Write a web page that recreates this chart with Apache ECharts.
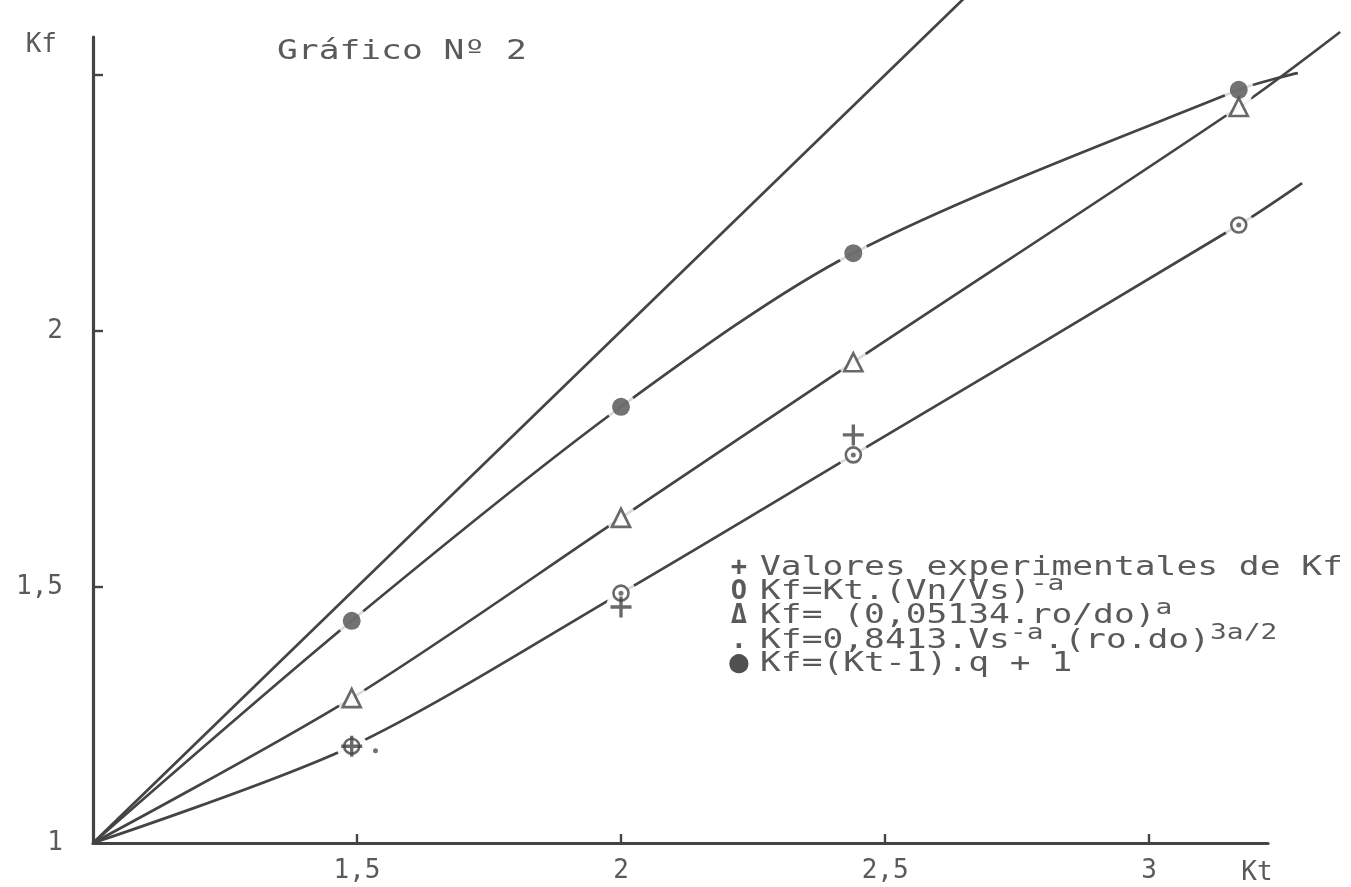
<!DOCTYPE html>
<html><head><meta charset="utf-8">
<script src="https://cdn.jsdelivr.net/npm/echarts@6/dist/echarts.min.js"></script>
<style>html,body{margin:0;padding:0;background:#fff}#c{width:1351px;height:887px}</style>
</head><body><div id="c"></div>
<script>
// ---- data (Kt on x, Kf on y) ----
const ktPoints = [1.49, 2.0, 2.44, 3.17];
const kfQ      = [1.434, 1.852, 2.152, 2.471];   // ● Kf=(Kt-1).q + 1
const kfRoDo   = [1.283, 1.635, 1.939, 2.4375];  // Δ Kf=(0,05134.ro/do)^a
const kfVnVs   = [1.189, 1.488, 1.758, 2.207];   // O Kf=Kt.(Vn/Vs)^-a
const ktExp    = [1.49, 2.0, 2.44];
const kfExp    = [1.189, 1.461, 1.797];          // + experimental values
const ktDot    = [1.535, 2.0, 2.44, 3.17];
const kfDot    = [1.18, 1.488, 1.758, 2.207];    // . Kf=0,8413...
const curveStart = [1, 1];
const endQ     = [3.282, 2.504];
const endRoDo  = [3.362, 2.584];
const endVnVs  = [3.29, 2.289];
const diagonal = [[1, 1], [2.65, 2.65]];         // Kf = Kt
const xTicks   = [1.5, 2, 2.5, 3];
const yTicks   = [1.5, 2, 2.5];
const yLabels  = [1, 1.5, 2];
const titleText = 'Gráfico Nº 2';
const legendSymbols = ['+', 'O', 'Δ', '.', '●'];
const legendTexts = [
  '{n|Valores experimentales de Kf}',
  '{n|Kf=Kt.(Vn/Vs)}{p|-a}',
  '{n|Kf= (0,05134.ro/do)}{p|a}',
  '{n|Kf=0,8413.Vs}{p|-a}{n|.(ro.do)}{p|3a/2}',
  '{n|Kf=(Kt-1).q + 1}'
];

const pts = (xs, ys) => xs.map((x, i) => [x, ys[i]]);
const MONO = '"DejaVu Sans Mono", "Liberation Mono", monospace';
const INK = '#444444';
const TXT = '#5a5a5a';
const fmt = v => String(v).replace('.', ',');

// shared scale: 528 px per Kt unit, 512 px per Kf unit
const X_AXIS_MAX = 3.225, X_DATA_MAX = 3.3826;
const Y_AXIS_MAX = 2.574, Y_DATA_MAX = 2.6465;

const curve = (data, smooth) => ({
  type: 'line', xAxisIndex: 1, yAxisIndex: 1, data, smooth: smooth, showSymbol: false, symbol: 'none',
  lineStyle: { color: INK, width: 2.7 }, z: 2, silent: true
});
const PLUS = 'path://M8.4,0 H11.6 V8.4 H20 V11.6 H11.6 V20 H8.4 V11.6 H0 V8.4 H8.4 Z';
const haloData = [].concat(pts(ktPoints, kfQ), pts(ktPoints, kfRoDo), pts(ktPoints, kfVnVs), pts(ktExp, kfExp));

const SX = 1.33;
const legendY = [568, 592, 616, 641, 664];
const rich = {
  n: { fontSize: 26, fontFamily: MONO, lineHeight: 36 },
  p: { fontSize: 21, fontFamily: MONO, lineHeight: 21, verticalAlign: 'top' }
};
const labelFont = { fontFamily: MONO, fontSize: 26, color: TXT };

const option = {
  backgroundColor: '#fff',
  animation: false,
  grid: [
    { left: 93, right: 83, top: 37, bottom: 44 },   // visible axes
    { left: 93, right: 0, top: 0, bottom: 44 }      // data area (same scale)
  ],
  xAxis: [{
    gridIndex: 0, type: 'value', min: 1, max: X_AXIS_MAX,
    name: 'Kt', nameLocation: 'end', nameGap: -11,
    nameTextStyle: Object.assign({ align: 'center', verticalAlign: 'top', padding: [17, 0, 0, 0] }, labelFont),
    axisLine: { show: true, onZero: false, lineStyle: { color: INK, width: 3.2 } },
    axisTick: { show: true, inside: true, length: 9, customValues: xTicks, lineStyle: { color: INK, width: 2.4 } },
    axisLabel: Object.assign({ customValues: xTicks, formatter: fmt, margin: 15 }, labelFont),
    splitLine: { show: false }
  }, {
    gridIndex: 1, type: 'value', min: 1, max: X_DATA_MAX, show: false
  }],
  yAxis: [{
    gridIndex: 0, type: 'value', min: 1, max: Y_AXIS_MAX,
    name: 'Kf', nameLocation: 'end', nameGap: -8,
    nameTextStyle: Object.assign({ align: 'right', verticalAlign: 'middle', padding: [0, 36, 0, 0] }, labelFont),
    axisLine: { show: true, onZero: false, lineStyle: { color: INK, width: 3.2 } },
    axisTick: { show: true, inside: true, length: 10, customValues: yTicks, lineStyle: { color: INK, width: 2.4 } },
    axisLabel: Object.assign({ customValues: yLabels, formatter: fmt, margin: 30 }, labelFont),
    splitLine: { show: false }
  }, {
    gridIndex: 1, type: 'value', min: 1, max: Y_DATA_MAX, show: false
  }],
  series: [
    curve(diagonal, false),
    curve([curveStart].concat(pts(ktPoints, kfQ), [endQ]), 0.3),
    curve([curveStart].concat(pts(ktPoints, kfRoDo), [endRoDo]), 0.3),
    curve([curveStart].concat(pts(ktPoints, kfVnVs), [endVnVs]), 0.3),
    { type: 'scatter', xAxisIndex: 1, yAxisIndex: 1, data: haloData, symbol: 'circle', symbolSize: 30,
      itemStyle: { color: '#fff' }, z: 3, silent: true },
    { type: 'scatter', xAxisIndex: 1, yAxisIndex: 1, name: 'Kf=Kt.(Vn/Vs)^-a', data: pts(ktPoints, kfVnVs),
      symbol: 'circle', symbolSize: 15, itemStyle: { color: '#fff', borderColor: INK, borderWidth: 2.6 }, z: 4 },
    { type: 'scatter', xAxisIndex: 1, yAxisIndex: 1, name: 'Kf=(0,05134.ro/do)^a', data: pts(ktPoints, kfRoDo),
      symbol: 'triangle', symbolSize: 18, itemStyle: { color: '#fff', borderColor: INK, borderWidth: 2.7 }, z: 4 },
    { type: 'scatter', xAxisIndex: 1, yAxisIndex: 1, name: 'Kf=(Kt-1).q + 1', data: pts(ktPoints, kfQ),
      symbol: 'circle', symbolSize: 18, itemStyle: { color: '#505050' }, z: 4 },
    { type: 'scatter', xAxisIndex: 1, yAxisIndex: 1, name: 'Valores experimentales de Kf', data: pts(ktExp, kfExp),
      symbol: PLUS, symbolSize: 21, itemStyle: { color: INK }, z: 5 },
    { type: 'scatter', xAxisIndex: 1, yAxisIndex: 1, name: 'Kf=0,8413.Vs^-a.(ro.do)^3a/2', data: pts(ktDot, kfDot),
      symbol: 'circle', symbolSize: 5, itemStyle: { color: '#505050' }, z: 6 }
  ],
  graphic: [
    { type: 'text', x: 277, y: 52, scaleX: SX, z: 10,
      style: { text: titleText, font: '26px ' + MONO, fill: TXT, verticalAlign: 'middle', textVerticalAlign: 'middle' } }
  ].concat(legendSymbols.map((s, i) => ({
    type: 'text', x: 739, y: legendY[i], z: 10,
    style: { text: s, font: 'bold ' + (s === '●' ? 32 : 27) + 'px ' + MONO, fill: s === '●' ? '#505050' : TXT,
      align: 'center', textAlign: 'center', verticalAlign: 'middle', textVerticalAlign: 'middle' }
  }))).concat(legendTexts.map((t, i) => ({
    type: 'text', x: 760, y: legendY[i], scaleX: SX, z: 10,
    style: { text: t, rich, font: '26px ' + MONO, fill: TXT, verticalAlign: 'middle', textVerticalAlign: 'middle' }
  })))
};
const chart = echarts.init(document.getElementById('c'));
chart.setOption(option);
</script></body></html>
